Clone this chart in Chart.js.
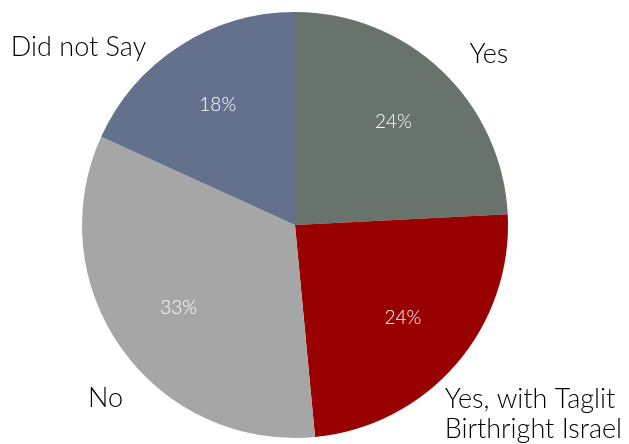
<!DOCTYPE html>
<html>
<head>
<meta charset="utf-8">
<script src="https://cdn.jsdelivr.net/npm/chart.js@4"></script>
<style>
  html, body { margin: 0; padding: 0; background: #fff; }
  #wrap { width: 629px; height: 444px; }
</style>
</head>
<body>
<div id="wrap"><canvas id="myChart" width="629" height="444"></canvas></div>
<script>
'use strict';

// data
var categories = ['Yes', 'Yes, with Taglit\nBirthright Israel', 'No', 'Did not Say'];
var shares = [24.2, 24.3, 33.3, 18.2];
var percentLabels = ['24%', '24%', '33%', '18%'];
var sliceColors = ['#68736b', '#990000', '#a6a6a6', '#63718c'];

// small nudges of the outside labels, like Excel's own placement
var labelNudge = [[18, 2], [-22, 34], [13, 50], [-26, 22]];

var fontFamily = 'Lato, "Noto Sans", sans-serif';

// draws the percent inside each slice and the category name outside it
var sliceLabels = {
  id: 'sliceLabels',
  afterDatasetsDraw: function (chart) {
    var ctx = chart.ctx;
    var meta = chart.getDatasetMeta(0);
    ctx.save();
    meta.data.forEach(function (arc, i) {
      var mid = (arc.startAngle + arc.endAngle) / 2;
      var dx = Math.cos(mid), dy = Math.sin(mid);

      // percent inside
      var rIn = arc.outerRadius * 0.67;
      ctx.fillStyle = '#ffffff';
      ctx.font = '300 19px ' + fontFamily;
      ctx.textAlign = 'center';
      ctx.textBaseline = 'middle';
      ctx.fillText(percentLabels[i], arc.x + dx * rIn, arc.y + dy * rIn);

      // category outside
      var rOut = arc.outerRadius + 14;
      var ax = arc.x + dx * rOut + labelNudge[i][0];
      var ay = arc.y + dy * rOut + labelNudge[i][1];
      var lines = categories[i].split('\n');
      var lineH = 30;
      ctx.fillStyle = '#000000';
      ctx.font = '300 27px ' + fontFamily;
      ctx.textAlign = dx >= 0 ? 'left' : 'right';
      ctx.textBaseline = 'alphabetic';
      lines.forEach(function (line, k) {
        ctx.fillText(line, ax, ay + k * lineH);
      });
    });
    ctx.restore();
  }
};

var ctx = document.getElementById('myChart');
var pieChart = new Chart(ctx, {
  type: 'pie',
  data: {
    labels: categories,
    datasets: [{
      data: shares,
      backgroundColor: sliceColors,
      borderWidth: 0
    }]
  },
  options: {
    responsive: false,
    animation: false,
    layout: { padding: { top: 12, bottom: 6, left: 40, right: 79 } },
    plugins: {
      legend: { display: false },
      tooltip: { enabled: false }
    }
  },
  plugins: [sliceLabels]
});
</script>
</body>
</html>
